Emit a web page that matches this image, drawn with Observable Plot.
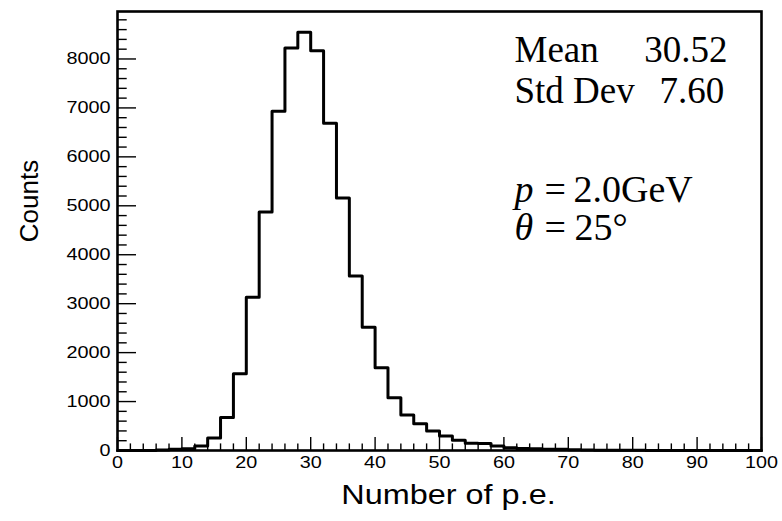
<!DOCTYPE html>
<html><head><meta charset="utf-8">
<script src="https://cdn.jsdelivr.net/npm/d3@7"></script>
<script src="https://cdn.jsdelivr.net/npm/@observablehq/plot@0.6"></script>
<style>html,body{margin:0;padding:0;background:#fff}#chart svg{display:block}</style>
</head><body><div id="chart"></div>
<script>
// Histogram bins: lower edges (width 2) and counts
const binLow = [0,2,4,6,8,10,12,14,16,18,20,22,24,26,28,30,32,34,36,38,40,42,44,46,48,
                50,52,54,56,58,60,62,64,66,68,70,72,74,76,78,80,82,84,86,88,90,92,94,96,98];
const counts = [0,0,2,8,28,38,90,255,672,1566,3131,4875,6930,8225,8544,8170,6685,5161,3568,2518,1689,1076,727,549,399,
                297,209,150,145,92,57,40,35,25,28,14,10,7,5,4,3,2,2,1,1,1,0,0,0,0];
const xUpper = 100;
const xMajorTicks = [0,10,20,30,40,50,60,70,80,90,100];
const xMinorTicks = d3.range(0, 101, 2).filter(v => v % 10 !== 0);
const yMajorTicks = [0,1000,2000,3000,4000,5000,6000,7000,8000];
const yMinorTicks = d3.range(0, 8801, 200).filter(v => v % 1000 !== 0);
const statLabels = ["Mean", "Std Dev"];
const statValues = ["30.52", "7.60"];
const momentum = "2.0GeV";
const angle = "25°";
const xTitle = "Number of p.e.";
const yTitle = "Counts";

const points = binLow.map((x, i) => ({x, y: counts[i]}));
points.push({x: xUpper, y: counts[counts.length - 1]});

const SANS = "Liberation Sans";
const SERIF = "Liberation Serif";
const ROT = "Liberation Sans, sans-serif";
const TICKFONT = 16.5;

const chart = Plot.plot({
  width: 782, height: 521,
  marginLeft: 117, marginRight: 21, marginTop: 11, marginBottom: 71,
  style: {background: "#fff", color: "#000", fontFamily: SANS},
  x: {domain: [0, 100], axis: null},
  y: {domain: [0, 8970], axis: null},
  marks: [
    Plot.line(points, {x: "x", y: "y", curve: "step-after", stroke: "#000", strokeWidth: 3}),
    // inner ticks
    Plot.axisX({ticks: xMajorTicks, tickSize: -13, tickFormat: () => "", label: null, strokeWidth: 1.4}),
    Plot.axisX({ticks: xMinorTicks, tickSize: -6.6, tickFormat: () => "", label: null, strokeWidth: 1.4}),
    Plot.axisY({ticks: yMajorTicks, tickSize: -19, tickFormat: () => "", label: null, strokeWidth: 1.4}),
    Plot.axisY({ticks: yMinorTicks, tickSize: -9.7, tickFormat: () => "", label: null, strokeWidth: 1.4}),
    // tick labels
    Plot.text(xMajorTicks, {x: d => d, frameAnchor: "bottom", text: d => String(d), dy: 6, lineAnchor: "top", textAnchor: "middle", fontSize: TICKFONT, fontFamily: SANS, fill: "#000"}),
    Plot.text(yMajorTicks, {y: d => d, frameAnchor: "left", text: d => String(d), dx: -7, lineAnchor: "middle", textAnchor: "end", fontSize: TICKFONT, fontFamily: SANS, fill: "#000"}),
    Plot.frame({stroke: "#000", strokeWidth: 2.6}),
    // axis titles
    Plot.text([xTitle], {frameAnchor: "bottom", text: d => d, dx: 9, dy: 53, lineAnchor: "bottom", fontSize: 27, fontFamily: SANS, fill: "#000"}),
    Plot.text([yTitle], {frameAnchor: "left", text: d => d, rotate: -90, textAnchor: "middle", dx: -80, dy: -30, lineAnchor: "bottom", fontSize: 26, fontFamily: ROT, fill: "#000"}),
    // stats box text
    Plot.text([statLabels[0]], {frameAnchor: "top-left", text: d => d, dx: 397, dy: 50, textAnchor: "start", lineAnchor: "bottom", fontSize: 37, fontFamily: SERIF, fill: "#000"}),
    Plot.text([statValues[0]], {frameAnchor: "top-left", text: d => d, dx: 610, dy: 50, textAnchor: "end", lineAnchor: "bottom", fontSize: 37, fontFamily: SERIF, fill: "#000"}),
    Plot.text([statLabels[1]], {frameAnchor: "top-left", text: d => d, dx: 397, dy: 91, textAnchor: "start", lineAnchor: "bottom", fontSize: 37, fontFamily: SERIF, fill: "#000"}),
    Plot.text([statValues[1]], {frameAnchor: "top-left", text: d => d, dx: 542, dy: 91, textAnchor: "start", lineAnchor: "bottom", fontSize: 37, fontFamily: SERIF, fill: "#000"}),
    // p and theta
    Plot.text(["p"], {frameAnchor: "top-left", text: d => d, dx: 397, dy: 190, textAnchor: "start", lineAnchor: "bottom", fontSize: 38, fontStyle: "italic", fontFamily: SERIF, fill: "#000"}),
    Plot.text(["="], {frameAnchor: "top-left", text: d => d, dx: 427, dy: 190, textAnchor: "start", lineAnchor: "bottom", fontSize: 38, fontFamily: SERIF, fill: "#000"}),
    Plot.text([momentum], {frameAnchor: "top-left", text: d => d, dx: 456, dy: 190, textAnchor: "start", lineAnchor: "bottom", fontSize: 38, fontFamily: SERIF, fill: "#000"}),
    Plot.text(["θ"], {frameAnchor: "top-left", text: d => d, dx: 397, dy: 228, textAnchor: "start", lineAnchor: "bottom", fontSize: 38, fontStyle: "italic", fontFamily: SERIF, fill: "#000"}),
    Plot.text(["="], {frameAnchor: "top-left", text: d => d, dx: 427, dy: 228, textAnchor: "start", lineAnchor: "bottom", fontSize: 38, fontFamily: SERIF, fill: "#000"}),
    Plot.text([angle], {frameAnchor: "top-left", text: d => d, dx: 457, dy: 228, textAnchor: "start", lineAnchor: "bottom", fontSize: 38, fontFamily: SERIF, fill: "#000"})
  ]
});
document.getElementById("chart").appendChild(chart);
// widen the sans-serif axis texts horizontally, as in the (horizontally stretched) original
chart.querySelectorAll('g[font-family="Liberation Sans"] text').forEach(t => {
  const L = t.getComputedTextLength();
  if (L > 0) { t.setAttribute("textLength", (L * 1.2).toFixed(1)); t.setAttribute("lengthAdjust", "spacingAndGlyphs"); }
});
</script>
</body></html>
